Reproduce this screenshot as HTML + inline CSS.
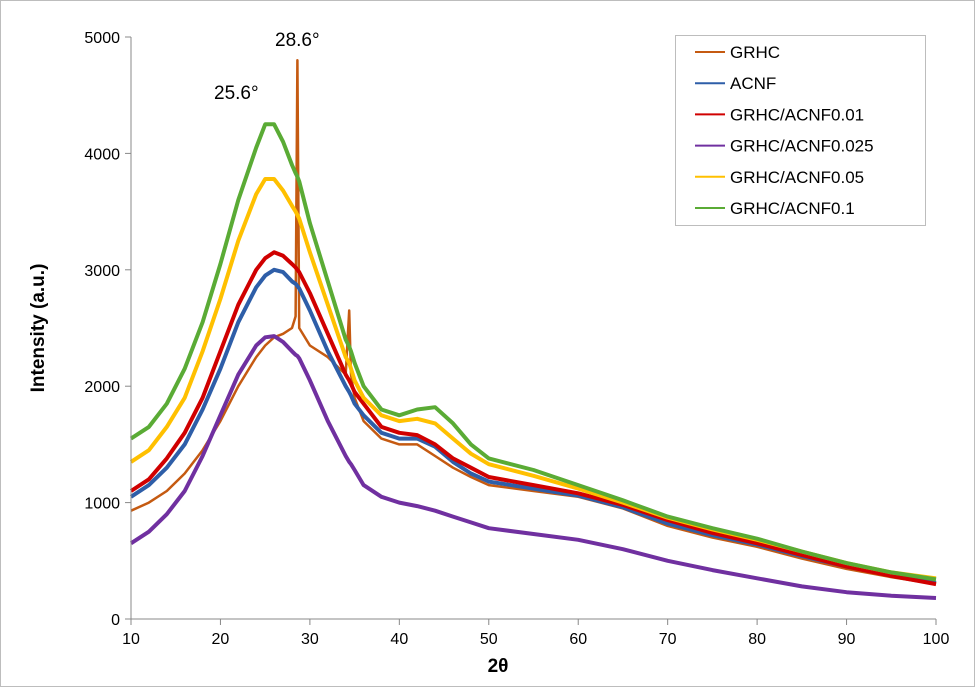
<!DOCTYPE html>
<html><head><meta charset="utf-8"><style>
body{margin:0;background:#fff}
svg{display:block;font-family:"Liberation Sans",sans-serif}
</style></head><body>
<svg id="chart" width="975" height="687" viewBox="0 0 975 687">
<rect x="0.5" y="0.5" width="974" height="686" fill="#fff" stroke="#bdbdbd"/>
<g id="grid"></g>
<g id="series"></g>
<g id="axes"></g>
<text x="498" y="672" font-size="19" font-weight="bold" text-anchor="middle">2θ</text>
<text transform="translate(44,328) rotate(-90)" font-size="19" font-weight="bold" text-anchor="middle">Intensity (a.u.)</text>
<text x="214" y="99" font-size="19">25.6°</text>
<text x="275" y="46" font-size="19">28.6°</text>
<g id="legend">
<rect x="675.5" y="35.5" width="250" height="190" fill="#fff" stroke="#bdbdbd"/>
</g>
</svg>
<script>
const xs=[10,12,14,16,18,20,22,24,25,26,27,28,28.4,28.6,28.8,30,32,34,34.4,34.6,35,36,38,40,42,44,46,48,50,55,60,65,70,75,80,85,90,95,100];
const grhc=[930,1000,1100,1250,1450,1700,2000,2250,2350,2420,2450,2500,2600,4800,2500,2350,2250,2100,2650,2100,1900,1700,1550,1500,1500,1400,1300,1220,1150,1100,1050,950,800,700,620,520,430,360,300];
const acnf=[1050,1150,1300,1500,1800,2150,2550,2850,2950,3000,2980,2900,2880,2860,2840,2650,2300,2000,1950,1920,1850,1750,1600,1550,1550,1480,1350,1250,1180,1120,1060,960,820,720,640,540,450,380,310];
const c001=[1100,1200,1380,1600,1900,2300,2700,3000,3100,3150,3120,3050,3020,3000,2980,2800,2450,2100,2050,2020,1950,1850,1650,1600,1580,1500,1380,1300,1220,1150,1080,980,850,740,650,550,450,370,300];
const c0025=[650,750,900,1100,1400,1750,2100,2350,2420,2430,2380,2300,2270,2260,2240,2050,1700,1400,1350,1330,1280,1150,1050,1000,970,930,880,830,780,730,680,600,500,420,350,280,230,200,180];
const c005=[1350,1450,1650,1900,2300,2750,3250,3650,3780,3780,3680,3550,3500,3470,3440,3150,2700,2250,2200,2150,2050,1900,1750,1700,1720,1680,1550,1420,1330,1230,1120,1000,870,770,680,580,480,400,350];
const c01=[1550,1650,1850,2150,2550,3050,3600,4050,4250,4250,4100,3900,3830,3800,3760,3400,2900,2400,2340,2300,2200,2000,1800,1750,1800,1820,1680,1500,1380,1280,1150,1020,880,780,690,580,480,400,340];
const seriesNames=["GRHC","ACNF","GRHC/ACNF0.01","GRHC/ACNF0.025","GRHC/ACNF0.05","GRHC/ACNF0.1"];
const seriesVals=[grhc,acnf,c001,c0025,c005,c01];
const colors=["#c55a11","#2e5ea8","#d00000","#7030a0","#ffc000","#5aab35"];
const xTicks=[10,20,30,40,50,60,70,80,90,100];
const yTicks=[0,1000,2000,3000,4000,5000];
const X0=131,X1=936,Y0=619,Y1=37;
const sx=v=>X0+(v-10)/90*(X1-X0);
const sy=v=>Y0-v/5000*(Y0-Y1);
const NS="http://www.w3.org/2000/svg";
function mk(t,a,p){const e=document.createElementNS(NS,t);for(const k in a)e.setAttribute(k,a[k]);p.appendChild(e);return e;}
const axes=document.getElementById('axes'),ser=document.getElementById('series'),leg=document.getElementById('legend');
let l=mk('line',{x1:X0,y1:Y0,x2:X1,y2:Y0,stroke:'#888','stroke-width':1},axes);


l=mk('line',{x1:X0,y1:Y0,x2:X0,y2:Y1,stroke:'#888','stroke-width':1},axes);


xTicks.forEach(v=>{const x=sx(v);
mk('line',{x1:x,y1:Y0,x2:x,y2:Y0+6,stroke:'#888'},axes);
const t=mk('text',{x:x,y:Y0+25,'font-size':16,'text-anchor':'middle'},axes);t.textContent=v;

});
yTicks.forEach(v=>{const y=sy(v);
mk('line',{x1:X0-6,y1:y,x2:X0,y2:y,stroke:'#888'},axes);
const t=mk('text',{x:X0-11,y:y+6,'font-size':16,'text-anchor':'end'},axes);t.textContent=v;

});
seriesVals.forEach((vals,i)=>{
const d=vals.map((v,j)=>(j?'L':'M')+sx(xs[j]).toFixed(1)+','+sy(v).toFixed(1)).join('');
const p=mk('path',{d:d,fill:'none',stroke:colors[i],'stroke-width':i===0?2.5:4,'stroke-linejoin':'round'},ser);


const y=52+i*31.2;
const ll=mk('line',{x1:695,y1:y,x2:725,y2:y,stroke:colors[i],'stroke-width':2},leg);


const t=mk('text',{x:730,y:y+6,'font-size':17},leg);t.textContent=seriesNames[i];


});
</script>
</body></html>
